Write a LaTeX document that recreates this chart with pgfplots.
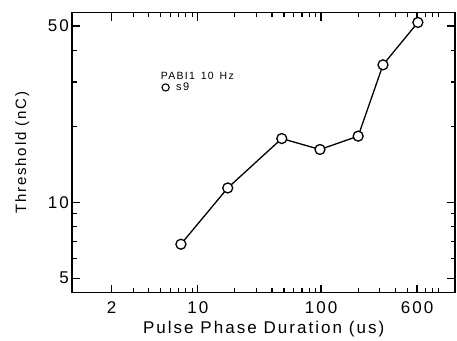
\documentclass[border=0pt]{standalone}
\usepackage{fontspec}
\setmainfont{Liberation Sans}[LetterSpace=12]
\usepackage{pgfplots}
\pgfplotsset{compat=1.18}
\begin{document}
\begin{tikzpicture}
\begin{axis}[
  scale only axis, width=382.7bp, height=280bp,
  xmode=log, ymode=log,
  xmin=0.96, xmax=1220, ymin=4.38, ymax=56.5,
  xtick={2,10,100,600}, xticklabels={2,10,100,600},
  ytick={5,10,50}, yticklabels={5,10,50},
  major tick length=8bp, minor tick length=4.5bp,
  every tick/.append style={line width=1.2bp, black},
  axis line style={line width=1.6bp},
  tick label style={font=\fontsize{17bp}{17bp}\selectfont},
  xticklabel style={yshift=-5bp},
  xlabel={Pulse Phase Duration (us)}, ylabel={Threshold (nC)},
  xlabel style={font=\fontsize{17bp}{17bp}\selectfont, at={(axis description cs:0.5,-0.13)}, anchor=center},
  ylabel style={font=\fontsize{15bp}{15bp}\selectfont, at={(axis description cs:-0.131,0.5)}, anchor=center},
  legend style={draw=none, fill=none, at={(0.234,0.733)}, anchor=west, inner sep=0pt,
    font=\fontsize{11bp}{11bp}\selectfont,
    /tikz/every odd column/.append style={column sep=5bp}},
  legend cell align=left,
]
\addplot[black, line width=1.3bp, mark=*, mark size=5bp,
  mark options={fill=white, draw=black, line width=1.3bp}, forget plot]
  coordinates {(7.3,6.82) (17.5,11.4) (48,17.9) (98,16.2) (200,18.3) (318,35.1) (610,51.7)};
\addlegendimage{only marks, black, mark=*, mark size=3.6bp, mark options={fill=white, draw=black, line width=1.1bp}}
\addlegendentry{s9}
\pgfplotsinvokeforeach{2,10,100,600}{
  \draw[black, line width=1.2bp] (axis cs:#1,4.38) -- (axis cs:#1,4.712);
  \draw[black, line width=1.2bp] (axis cs:#1,56.5) -- (axis cs:#1,52.52);
}
\pgfplotsinvokeforeach{3,4,5,6,7,8,9,20,30,40,50,60,70,80,90,200,300,400,500,700,800,900}{
  \draw[black, line width=1.2bp] (axis cs:#1,4.38) -- (axis cs:#1,4.564);
  \draw[black, line width=1.2bp] (axis cs:#1,56.5) -- (axis cs:#1,54.22);
}
\pgfplotsinvokeforeach{5,10,50}{
  \draw[black, line width=1.2bp] (axis cs:0.96,#1) -- (axis cs:1.1148,#1);
  \draw[black, line width=1.2bp] (axis cs:1220,#1) -- (axis cs:1050.6,#1);
}
\pgfplotsinvokeforeach{6,7,8,9,20,30,40}{
  \draw[black, line width=1.2bp] (axis cs:0.96,#1) -- (axis cs:1.0442,#1);
  \draw[black, line width=1.2bp] (axis cs:1220,#1) -- (axis cs:1121.6,#1);
}
\node[anchor=base west, inner sep=0pt, font=\fontsize{10.5bp}{10.5bp}\selectfont] at (axis description cs:0.231,0.762) {PABI1 \,10 \,Hz};
\end{axis}
\path (current axis.south west) ++(-72.3bp,-44.3bp);
\path (current axis.north east) ++(2bp,12.7bp);
\end{tikzpicture}
\end{document}
